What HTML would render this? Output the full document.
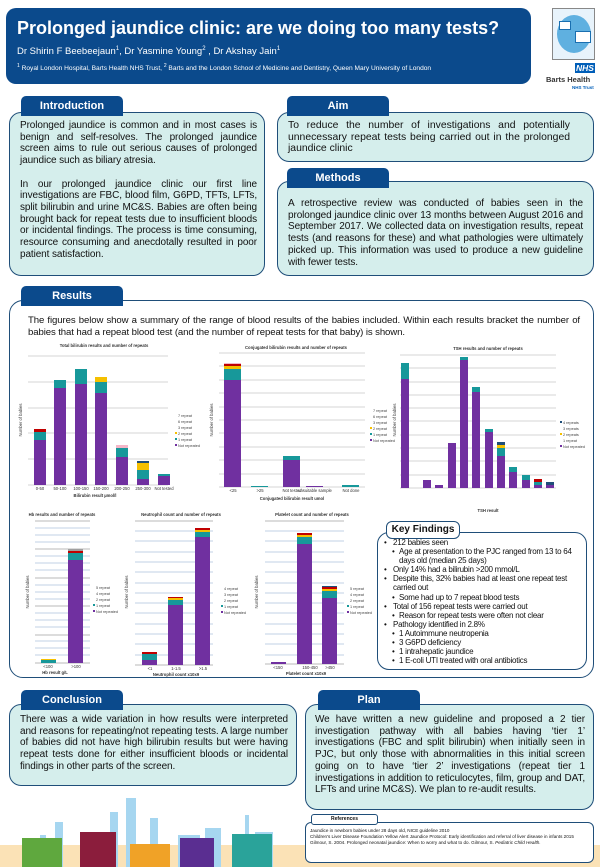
<!DOCTYPE html>
<html><head><meta charset="utf-8"><style>
*{margin:0;padding:0;box-sizing:border-box}
body{width:600px;height:867px;position:relative;background:#fff;font-family:"Liberation Sans",Arial,sans-serif;overflow:hidden;color:#111}
.a{position:absolute}
.hdr{left:6px;top:8px;width:525px;height:76px;background:#0b4a8c;border-radius:10px;color:#fff}
.tab{position:absolute;background:#0b4a8c;color:#fff;font-weight:bold;font-size:11px;text-align:center;line-height:20px;border-radius:5px 5px 0 0;height:20px}
.box{position:absolute;background:#d5eeec;border:1.5px solid #1f4e79;border-radius:12px}
.txt{position:absolute;font-size:10px;line-height:11.7px;text-align:justify;letter-spacing:-0.1px}
.kf{position:absolute;left:384px;top:538px;width:200px;font-size:8px;line-height:9.1px;letter-spacing:-0.25px}
.kf div{position:relative;padding-left:9px}
.kf div.s{padding-left:15px}
.kf div:before{content:"•";position:absolute;left:0}
.kf div.s:before{left:8px}
</style></head><body>

<div class="a hdr">
 <div class="a" style="left:11px;top:10px;font-size:18px;font-weight:bold;white-space:nowrap">Prolonged jaundice clinic: are we doing too many tests?</div>
 <div class="a" style="left:11px;top:38px;font-size:9.5px;white-space:nowrap">Dr Shirin F Beebeejaun<sup style="font-size:6px">1</sup>, Dr Yasmine Young<sup style="font-size:6px">2</sup> , Dr Akshay Jain<sup style="font-size:6px">1</sup></div>
 <div class="a" style="left:11px;top:55px;font-size:6.6px;white-space:nowrap"><sup style="font-size:5px">1</sup> Royal London Hospital, Barts Health NHS Trust, <sup style="font-size:5px">2</sup> Barts and the London School of Medicine and Dentistry, Queen Mary University of London</div>
</div>
<!-- logo -->
<div class="a" style="left:552px;top:8px;width:43px;height:52px;border:1px solid #888;background:#e8f3fb">
 <div class="a" style="left:4px;top:6px;width:34px;height:38px;border-radius:50%;background:#5fb0e0"></div>
 <div class="a" style="left:22px;top:22px;width:16px;height:12px;background:#fff;border:1px solid #1a6fb0"></div>
 <div class="a" style="left:6px;top:12px;width:12px;height:9px;background:#fff;border:1px solid #1a6fb0"></div>
</div>
<div class="a" style="left:575px;top:63px;width:20px;height:10px;background:#005eb8;color:#fff;font-size:8.5px;font-weight:bold;font-style:italic;line-height:10px;text-align:center">NHS</div>
<div class="a" style="left:546px;top:75px;font-size:7.5px;font-weight:bold;color:#333;white-space:nowrap">Barts Health</div>
<div class="a" style="left:572px;top:85px;font-size:4.5px;font-weight:bold;color:#005eb8;white-space:nowrap">NHS Trust</div>

<!-- Intro -->
<div class="box" style="left:9px;top:112px;width:256px;height:164px"></div>
<div class="tab" style="left:21px;top:96px;width:102px">Introduction</div>
<div class="txt" style="left:20px;top:120px;width:237px">Prolonged jaundice is common and in most cases is benign and self-resolves. The prolonged jaundice screen aims to rule out serious causes of prolonged jaundice such as biliary atresia.<br><br>In our prolonged jaundice clinic our first line investigations are FBC, blood film, G6PD, TFTs, LFTs, split bilirubin and urine MC&amp;S. Babies are often being brought back for repeat tests due to insufficient bloods or incidental findings. The process is time consuming, resource consuming and anecdotally resulted in poor patient satisfaction.</div>

<!-- Aim -->
<div class="box" style="left:277px;top:112px;width:317px;height:50px"></div>
<div class="tab" style="left:287px;top:96px;width:102px">Aim</div>
<div class="txt" style="left:288px;top:120px;width:282px;font-size:10.4px;letter-spacing:0">To reduce the number of investigations and potentially unnecessary repeat tests being carried out in the prolonged jaundice clinic</div>

<!-- Methods -->
<div class="box" style="left:277px;top:181px;width:317px;height:95px"></div>
<div class="tab" style="left:287px;top:168px;width:102px">Methods</div>
<div class="txt" style="left:288px;top:198px;width:295px">A retrospective review was conducted of babies seen in the prolonged jaundice clinic over 13 months between August 2016 and September 2017. We collected data on investigation results, repeat tests (and reasons for these) and what pathologies were ultimately picked up. This information was used to produce a new guideline with fewer tests.</div>

<!-- Results -->
<div class="a" style="left:9px;top:300px;width:585px;height:378px;border:1.5px solid #1f4e79;border-radius:14px;background:#fff"></div>
<div class="tab" style="left:21px;top:286px;width:102px">Results</div>
<div class="txt" style="left:28px;top:315px;width:552px;font-size:9.6px">The figures below show a summary of the range of blood results of the babies included. Within each results bracket the number of babies that had a repeat blood test (and the number of repeat tests for that baby) is shown.</div>

<svg class="a" style="left:0;top:0" width="600" height="867" font-family="Liberation Sans,Arial,sans-serif">
<g stroke="#c8c8c8" stroke-width="0.8">
 <line x1="28" y1="356" x2="168" y2="356"/><line x1="28" y1="382" x2="168" y2="382"/><line x1="28" y1="408" x2="168" y2="408"/><line x1="28" y1="433" x2="168" y2="433"/><line x1="28" y1="459" x2="168" y2="459"/><line x1="28" y1="485" x2="168" y2="485"/>
 <line x1="219" y1="353" x2="365" y2="353"/><line x1="219" y1="366" x2="365" y2="366"/><line x1="219" y1="380" x2="365" y2="380"/><line x1="219" y1="393" x2="365" y2="393"/><line x1="219" y1="407" x2="365" y2="407"/><line x1="219" y1="420" x2="365" y2="420"/><line x1="219" y1="433" x2="365" y2="433"/><line x1="219" y1="447" x2="365" y2="447"/><line x1="219" y1="460" x2="365" y2="460"/><line x1="219" y1="474" x2="365" y2="474"/><line x1="219" y1="487" x2="365" y2="487"/>
 <line x1="400" y1="355" x2="556" y2="355"/><line x1="400" y1="368" x2="556" y2="368"/><line x1="400" y1="382" x2="556" y2="382"/><line x1="400" y1="395" x2="556" y2="395"/><line x1="400" y1="408" x2="556" y2="408"/><line x1="400" y1="421" x2="556" y2="421"/><line x1="400" y1="435" x2="556" y2="435"/><line x1="400" y1="448" x2="556" y2="448"/><line x1="400" y1="461" x2="556" y2="461"/><line x1="400" y1="475" x2="556" y2="475"/><line x1="400" y1="488" x2="556" y2="488"/>
</g>
<g stroke="#c2d0e6" stroke-width="0.9">
 <line x1="35" y1="528" x2="90" y2="528"/><line x1="35" y1="535" x2="90" y2="535"/><line x1="35" y1="542" x2="90" y2="542"/><line x1="35" y1="556" x2="90" y2="556"/><line x1="35" y1="563" x2="90" y2="563"/><line x1="35" y1="570" x2="90" y2="570"/><line x1="35" y1="585" x2="90" y2="585"/><line x1="35" y1="592" x2="90" y2="592"/><line x1="35" y1="599" x2="90" y2="599"/><line x1="35" y1="613" x2="90" y2="613"/><line x1="35" y1="620" x2="90" y2="620"/><line x1="35" y1="627" x2="90" y2="627"/><line x1="35" y1="641" x2="90" y2="641"/><line x1="35" y1="648" x2="90" y2="648"/><line x1="35" y1="655" x2="90" y2="655"/>
 <line x1="135" y1="531" x2="213" y2="531"/><line x1="135" y1="541" x2="213" y2="541"/><line x1="135" y1="552" x2="213" y2="552"/><line x1="135" y1="562" x2="213" y2="562"/><line x1="135" y1="572" x2="213" y2="572"/><line x1="135" y1="583" x2="213" y2="583"/><line x1="135" y1="593" x2="213" y2="593"/><line x1="135" y1="603" x2="213" y2="603"/><line x1="135" y1="613" x2="213" y2="613"/><line x1="135" y1="624" x2="213" y2="624"/><line x1="135" y1="634" x2="213" y2="634"/><line x1="135" y1="644" x2="213" y2="644"/><line x1="135" y1="655" x2="213" y2="655"/>
 <line x1="265" y1="531" x2="344" y2="531"/><line x1="265" y1="541" x2="344" y2="541"/><line x1="265" y1="552" x2="344" y2="552"/><line x1="265" y1="562" x2="344" y2="562"/><line x1="265" y1="572" x2="344" y2="572"/><line x1="265" y1="583" x2="344" y2="583"/><line x1="265" y1="593" x2="344" y2="593"/><line x1="265" y1="603" x2="344" y2="603"/><line x1="265" y1="613" x2="344" y2="613"/><line x1="265" y1="624" x2="344" y2="624"/><line x1="265" y1="634" x2="344" y2="634"/><line x1="265" y1="644" x2="344" y2="644"/><line x1="265" y1="655" x2="344" y2="655"/>
</g>
<g stroke="#a0a0a0" stroke-width="0.8">
 <line x1="35" y1="521" x2="90" y2="521"/><line x1="35" y1="549" x2="90" y2="549"/><line x1="35" y1="578" x2="90" y2="578"/><line x1="35" y1="606" x2="90" y2="606"/><line x1="35" y1="635" x2="90" y2="635"/><line x1="35" y1="663" x2="90" y2="663"/>
 <line x1="135" y1="521" x2="213" y2="521"/><line x1="135" y1="665" x2="213" y2="665"/>
 <line x1="265" y1="521" x2="344" y2="521"/><line x1="265" y1="664" x2="344" y2="664"/>
</g>
<g>
 <rect x="34" y="440" width="12" height="45" fill="#7030a0"/><rect x="34" y="432" width="12" height="8" fill="#17989a"/><rect x="34" y="429" width="12" height="3" fill="#c00000"/>
 <rect x="54" y="388" width="12" height="97" fill="#7030a0"/><rect x="54" y="380" width="12" height="8" fill="#17989a"/>
 <rect x="75" y="384" width="12" height="101" fill="#7030a0"/><rect x="75" y="369" width="12" height="15" fill="#17989a"/>
 <rect x="95" y="393" width="12" height="92" fill="#7030a0"/><rect x="95" y="382" width="12" height="11" fill="#17989a"/><rect x="95" y="377" width="12" height="5" fill="#f5c000"/>
 <rect x="116" y="457" width="12" height="28" fill="#7030a0"/><rect x="116" y="448" width="12" height="9" fill="#17989a"/><rect x="116" y="445" width="12" height="3" fill="#f4b6c8"/>
 <rect x="137" y="479" width="12" height="6" fill="#7030a0"/><rect x="137" y="470" width="12" height="9" fill="#17989a"/><rect x="137" y="463" width="12" height="7" fill="#f5c000"/><rect x="137" y="461" width="12" height="2" fill="#1f4e79"/>
 <rect x="158" y="476" width="12" height="9" fill="#7030a0"/><rect x="158" y="474" width="12" height="2" fill="#17989a"/>
</g>
<g>
 <rect x="224" y="380" width="17" height="107" fill="#7030a0"/><rect x="224" y="369" width="17" height="11" fill="#17989a"/><rect x="224" y="366" width="17" height="3" fill="#f5c000"/><rect x="224" y="364" width="17" height="2" fill="#c00000"/><rect x="224" y="363" width="17" height="1" fill="#f4b6c8"/>
 <rect x="251" y="486" width="17" height="1" fill="#17989a"/>
 <rect x="283" y="460" width="17" height="27" fill="#7030a0"/><rect x="283" y="456" width="17" height="4" fill="#17989a"/>
 <rect x="306" y="486" width="17" height="1" fill="#7030a0"/>
 <rect x="342" y="485" width="17" height="2" fill="#17989a"/>
</g>
<g>
 <rect x="401" y="379" width="8" height="109" fill="#7030a0"/><rect x="401" y="363" width="8" height="16" fill="#17989a"/>
 <rect x="423" y="480" width="8" height="8" fill="#7030a0"/>
 <rect x="435" y="485" width="8" height="3" fill="#7030a0"/>
 <rect x="448" y="443" width="8" height="45" fill="#7030a0"/>
 <rect x="460" y="360" width="8" height="128" fill="#7030a0"/><rect x="460" y="357" width="8" height="3" fill="#17989a"/>
 <rect x="472" y="392" width="8" height="96" fill="#7030a0"/><rect x="472" y="387" width="8" height="5" fill="#17989a"/>
 <rect x="485" y="432" width="8" height="56" fill="#7030a0"/><rect x="485" y="429" width="8" height="3" fill="#17989a"/>
 <rect x="497" y="456" width="8" height="32" fill="#7030a0"/><rect x="497" y="448" width="8" height="8" fill="#17989a"/><rect x="497" y="445" width="8" height="3" fill="#f5c000"/><rect x="497" y="442" width="8" height="3" fill="#1f4e79"/>
 <rect x="509" y="472" width="8" height="16" fill="#7030a0"/><rect x="509" y="467" width="8" height="5" fill="#17989a"/>
 <rect x="522" y="480" width="8" height="8" fill="#7030a0"/><rect x="522" y="475" width="8" height="5" fill="#17989a"/>
 <rect x="534" y="485" width="8" height="3" fill="#7030a0"/><rect x="534" y="482" width="8" height="3" fill="#17989a"/><rect x="534" y="479" width="8" height="3" fill="#c00000"/>
 <rect x="546" y="485" width="8" height="3" fill="#7030a0"/><rect x="546" y="482" width="8" height="3" fill="#1f4e79"/>
</g>
<g>
 <rect x="41" y="660" width="15" height="3" fill="#17989a"/><rect x="41" y="659" width="15" height="1" fill="#f5c000"/>
 <rect x="68" y="560" width="15" height="103" fill="#7030a0"/><rect x="68" y="553" width="15" height="7" fill="#17989a"/><rect x="68" y="551" width="15" height="2" fill="#c00000"/><rect x="68" y="549" width="15" height="2" fill="#a0a0a0"/>
 <rect x="142" y="660" width="15" height="5" fill="#7030a0"/><rect x="142" y="654" width="15" height="6" fill="#17989a"/><rect x="142" y="652" width="15" height="2" fill="#c00000"/>
 <rect x="168" y="605" width="15" height="60" fill="#7030a0"/><rect x="168" y="600" width="15" height="5" fill="#17989a"/><rect x="168" y="598" width="15" height="2" fill="#f5c000"/><rect x="168" y="597" width="15" height="1" fill="#c00000"/>
 <rect x="195" y="537" width="15" height="128" fill="#7030a0"/><rect x="195" y="532" width="15" height="5" fill="#17989a"/><rect x="195" y="530" width="15" height="2" fill="#f5c000"/><rect x="195" y="528" width="15" height="2" fill="#c00000"/>
 <rect x="271" y="662" width="15" height="2" fill="#7030a0"/>
 <rect x="297" y="544" width="15" height="120" fill="#7030a0"/><rect x="297" y="537" width="15" height="7" fill="#17989a"/><rect x="297" y="535" width="15" height="2" fill="#f5c000"/><rect x="297" y="533" width="15" height="2" fill="#c00000"/>
 <rect x="322" y="598" width="15" height="66" fill="#7030a0"/><rect x="322" y="591" width="15" height="7" fill="#17989a"/><rect x="322" y="589" width="15" height="2" fill="#f5c000"/><rect x="322" y="587" width="15" height="2" fill="#c00000"/><rect x="322" y="586" width="15" height="1" fill="#1f4e79"/>
</g>
<g font-size="4.2" fill="#333" text-anchor="middle">
 <text x="104" y="347" font-weight="bold">Total bilirubin results and number of repeats</text>
 <text x="296" y="349" font-weight="bold">Conjugated bilirubin results and number of repeats</text>
 <text x="488" y="350" font-weight="bold">TSH results and number of repeats</text>
 <text x="62" y="516" font-weight="bold">Hb results and number of repeats</text>
 <text x="181" y="516" font-weight="bold">Neutrophil count and number of repeats</text>
 <text x="312" y="516" font-weight="bold">Platelet count and number of repeats</text>
 <text x="95" y="497" font-weight="bold">Bilirubin result µmol/l</text>
 <text x="292" y="500" font-weight="bold">Conjugated bilirubin result umol</text>
 <text x="488" y="512" font-weight="bold">TSH result</text>
 <text x="55" y="674" font-weight="bold">Hb result g/L</text>
 <text x="176" y="676" font-weight="bold">Neutrophil count x10x9</text>
 <text x="306" y="675" font-weight="bold">Platelet count x10x9</text>
 <text x="40" y="490">0-50</text><text x="60" y="490">50-100</text><text x="81" y="490">100-150</text><text x="101" y="490">150-200</text><text x="122" y="490">200-250</text><text x="143" y="490">250-300</text><text x="164" y="490">Not tested</text>
 <text x="233" y="492">&lt;25</text><text x="260" y="492">&gt;25</text><text x="292" y="492">Not tested</text><text x="315" y="492">unsuitable sample</text><text x="351" y="492">Not done</text>
 <text x="48" y="668">&lt;100</text><text x="76" y="668">&gt;100</text>
 <text x="150" y="670">&lt;1</text><text x="176" y="670">1-1.5</text><text x="203" y="670">&gt;1.5</text>
 <text x="278" y="669">&lt;150</text><text x="310" y="669">150-450</text><text x="330" y="669">&gt;450</text>
 <text x="22" y="420" transform="rotate(-90 22 420)">Number of babies</text>
 <text x="213" y="420" transform="rotate(-90 213 420)">Number of babies</text>
 <text x="396" y="420" transform="rotate(-90 396 420)">Number of babies</text>
 <text x="29" y="592" transform="rotate(-90 29 592)">Number of babies</text>
 <text x="128" y="592" transform="rotate(-90 128 592)">Number of babies</text>
 <text x="258" y="592" transform="rotate(-90 258 592)">Number of babies</text>
</g>
<g font-size="3.8" fill="#444">
 <text x="178" y="417">7 repeat</text><text x="178" y="423">6 repeat</text><text x="178" y="429">3 repeat</text><text x="178" y="435">2 repeat</text><text x="178" y="441">1 repeat</text><text x="178" y="447">Not repeated</text>
 <text x="373" y="412">7 repeat</text><text x="373" y="418">6 repeat</text><text x="373" y="424">3 repeat</text><text x="373" y="430">2 repeat</text><text x="373" y="436">1 repeat</text><text x="373" y="442">Not repeated</text>
 <text x="563" y="424">4 repeats</text><text x="563" y="430">3 repeats</text><text x="563" y="436">2 repeats</text><text x="563" y="442">1 repeat</text><text x="563" y="448">Not repeated</text>
 <text x="96" y="589">5 repeat</text><text x="96" y="595">4 repeat</text><text x="96" y="601">2 repeat</text><text x="96" y="607">1 repeat</text><text x="96" y="613">Not repeated</text>
 <text x="224" y="590">4 repeat</text><text x="224" y="596">3 repeat</text><text x="224" y="602">2 repeat</text><text x="224" y="608">1 repeat</text><text x="224" y="614">Not repeated</text>
 <text x="350" y="590">5 repeat</text><text x="350" y="596">4 repeat</text><text x="350" y="602">2 repeat</text><text x="350" y="608">1 repeat</text><text x="350" y="614">Not repeated</text>
</g>
<g>
 <rect x="175" y="438" width="2" height="2" fill="#17989a"/><rect x="175" y="444" width="2" height="2" fill="#7030a0"/><rect x="175" y="432" width="2" height="2" fill="#f5c000"/>
 <rect x="370" y="433" width="2" height="2" fill="#17989a"/><rect x="370" y="439" width="2" height="2" fill="#7030a0"/><rect x="370" y="427" width="2" height="2" fill="#f5c000"/>
 <rect x="560" y="421" width="2" height="2" fill="#1f4e79"/><rect x="560" y="433" width="2" height="2" fill="#f5c000"/><rect x="560" y="445" width="2" height="2" fill="#7030a0"/>
 <rect x="93" y="604" width="2" height="2" fill="#17989a"/><rect x="93" y="610" width="2" height="2" fill="#7030a0"/>
 <rect x="221" y="605" width="2" height="2" fill="#17989a"/><rect x="221" y="611" width="2" height="2" fill="#7030a0"/>
 <rect x="347" y="605" width="2" height="2" fill="#17989a"/><rect x="347" y="611" width="2" height="2" fill="#7030a0"/>
</g>
</svg>

<!-- Key findings -->
<div class="a" style="left:377px;top:532px;width:210px;height:138px;border:1.5px solid #1f4e79;border-radius:12px;background:#fff"></div>
<div class="a" style="left:386px;top:521px;width:74px;height:18px;border:1.5px solid #1f4e79;border-radius:6px;background:#fff;font-weight:bold;font-size:10px;text-align:center;line-height:15px">Key Findings</div>
<div class="kf">
 <div>212 babies seen</div>
 <div class="s">Age at presentation to the PJC ranged from 13 to 64 days old (median 25 days)</div>
 <div>Only 14% had a bilirubin &gt;200 mmol/L</div>
 <div>Despite this, 32% babies had at least one repeat test carried out</div>
 <div class="s">Some had up to 7 repeat blood tests</div>
 <div>Total of 156 repeat tests were carried out</div>
 <div class="s">Reason for repeat tests were often not clear</div>
 <div>Pathology identified in 2.8%</div>
 <div class="s">1 Autoimmune neutropenia</div>
 <div class="s">3 G6PD deficiency</div>
 <div class="s">1 intrahepatic jaundice</div>
 <div class="s">1 E-coli UTI treated with oral antibiotics</div>
</div>

<!-- Conclusion -->
<div class="box" style="left:9px;top:704px;width:288px;height:82px"></div>
<div class="tab" style="left:21px;top:690px;width:102px">Conclusion</div>
<div class="txt" style="left:20px;top:714px;width:268px">There was a wide variation in how results were interpreted and reasons for repeating/not repeating tests. A large number of babies did not have high bilirubin results but were having repeat tests done for either insufficient bloods or incidental findings in other parts of the screen.</div>

<!-- Plan -->
<div class="box" style="left:305px;top:704px;width:289px;height:106px"></div>
<div class="tab" style="left:318px;top:690px;width:102px">Plan</div>
<div class="txt" style="left:315px;top:714px;width:270px">We have written a new guideline and proposed a 2 tier investigation pathway with all babies having ‘tier 1’ investigations (FBC and split bilirubin) when initially seen in PJC, but only those with abnormalities in this initial screen going on to have ‘tier 2’ investigations (repeat tier 1 investigations in addition to reticulocytes, film, group and DAT, LFTs and urine MC&amp;S). We plan to re-audit results.</div>

<!-- skyline -->
<div class="a" style="left:0;top:845px;width:600px;height:22px;background:#fbe2b6"></div>
<svg class="a" style="left:0;top:790px" width="300" height="77">
 <g fill="#a6d6f0">
  <rect x="22" y="50" width="10" height="27"/><rect x="40" y="45" width="6" height="32"/><rect x="55" y="32" width="8" height="45"/>
  <rect x="110" y="22" width="8" height="55"/><rect x="126" y="8" width="10" height="69"/><rect x="150" y="28" width="8" height="49"/>
  <rect x="85" y="45" width="20" height="32"/><rect x="178" y="45" width="22" height="32"/><rect x="205" y="38" width="16" height="39"/>
  <rect x="245" y="25" width="4" height="52"/><rect x="255" y="42" width="18" height="35"/>
 </g>
 <rect x="22" y="48" width="40" height="29" fill="#5fa83e"/>
 <rect x="80" y="42" width="36" height="35" fill="#8b1d3c"/>
 <rect x="130" y="54" width="40" height="23" fill="#f0a227"/>
 <rect x="180" y="48" width="34" height="29" fill="#5a2e91"/>
 <rect x="232" y="44" width="40" height="33" fill="#2aa39a"/>
</svg>

<!-- references -->
<div class="a" style="left:305px;top:822px;width:289px;height:41px;border:1.5px solid #1f4e79;border-radius:6px;background:#fff"></div>
<div class="a" style="left:311px;top:814px;width:67px;height:11px;border:1.5px solid #1f4e79;border-radius:3px;background:#fff;font-size:5px;font-weight:bold;text-align:center;line-height:8px">References</div>
<div class="a" style="left:310px;top:828px;width:280px;font-size:4.6px;line-height:5.8px">Jaundice in newborn babies under 28 days old, NICE guideline 2010<br>Children's Liver Disease Foundation Yellow Alert Jaundice Protocol: Early identification and referral of liver disease in infants 2015<br>Gilmour, S. 2004. Prolonged neonatal jaundice: When to worry and what to do. Gilmour, S. <i>Pediatric Child Health.</i></div>
</body></html>
